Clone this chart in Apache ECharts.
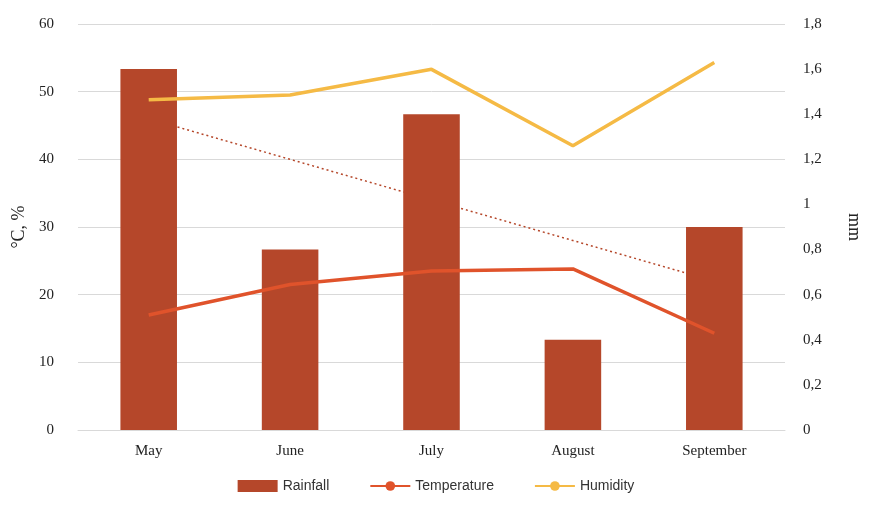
<!DOCTYPE html>
<html><head><meta charset="utf-8">
<script src="https://cdn.jsdelivr.net/npm/echarts@6/dist/echarts.min.js"></script>
<style>html,body{margin:0;background:#fff}#c{width:872px;height:512px}</style>
</head><body><div id="c"></div>
<script>
const categories=['May','June','July','August','September'];
const rainfall=[1.6,0.8,1.4,0.4,0.9];
const temperature=[17,21.5,23.5,23.8,14.3];
const humidity=[48.8,49.5,53.3,42,54.3];
const rainTrend=[1.38,1.2,1.02,0.84,0.66];
const font='Liberation Serif';
const chart=echarts.init(document.getElementById('c'));
chart.setOption({
 textStyle:{fontFamily:font},
 grid:{left:78,right:87,top:24,bottom:82},
 legend:{bottom:14,itemGap:40,textStyle:{fontFamily:'Liberation Sans',fontSize:14,color:'#333'},
  data:[{name:'Rainfall',icon:'rect'},{name:'Temperature'},{name:'Humidity'}],itemWidth:40,itemHeight:12},
 xAxis:{type:'category',data:categories,axisTick:{show:false},axisLine:{lineStyle:{color:'#d9d9d9'}},
  axisLabel:{color:'#222',fontSize:15,fontFamily:font,margin:14}},
 yAxis:[{type:'value',min:0,max:60,interval:10,name:'°C, %',nameLocation:'middle',nameGap:46,
   nameTextStyle:{fontSize:18,color:'#222',fontFamily:font},
   axisLabel:{color:'#222',fontSize:15,margin:24},splitLine:{lineStyle:{color:'#d9d9d9'}}},
  {type:'value',min:0,max:1.8,interval:0.2,name:'mm',nameLocation:'middle',nameGap:60,nameRotate:-90,
   nameTextStyle:{fontSize:18,color:'#222',fontFamily:font},splitLine:{show:false},
   axisLabel:{color:'#222',fontSize:15,margin:18,formatter:v=>String(Math.round(v*10)/10).replace('.',',')}}],
 series:[
  {name:'Rainfall',type:'bar',yAxisIndex:1,data:rainfall,barWidth:'40%',itemStyle:{color:'#B5472A'}},
  {name:'Temperature',type:'line',data:temperature,symbol:'none',lineStyle:{width:3.5,color:'#E0532B'},itemStyle:{color:'#E0532B'}},
  {name:'Humidity',type:'line',data:humidity,symbol:'none',lineStyle:{width:3.5,color:'#F5BA45'},itemStyle:{color:'#F5BA45'}},
  {name:'trend',type:'line',yAxisIndex:1,data:rainTrend,symbol:'none',lineStyle:{width:1.5,type:[2,3],color:'#B5472A'},z:1}
 ]
});
</script></body></html>
